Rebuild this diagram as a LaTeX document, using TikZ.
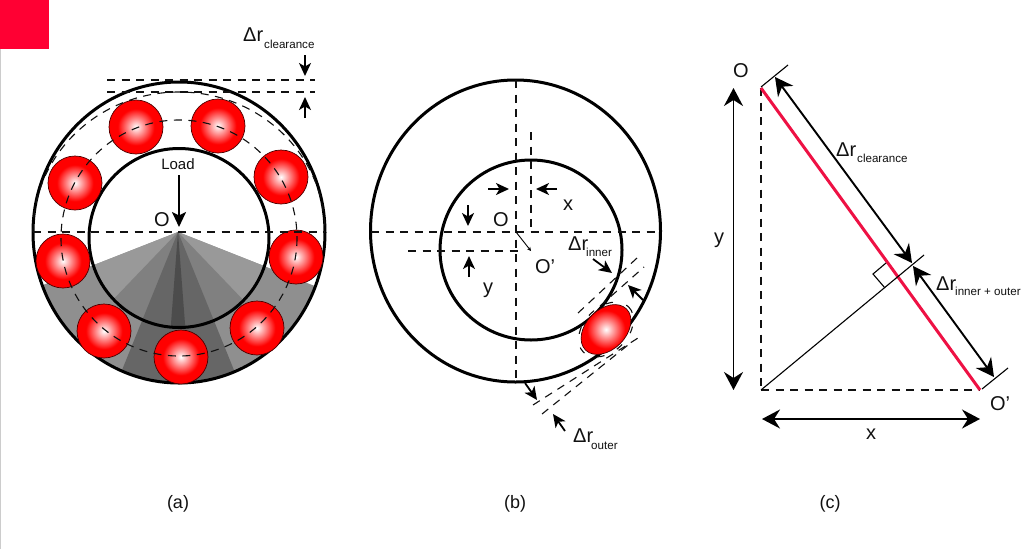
\documentclass[tikz,border=0pt]{standalone}
\usepackage{fontspec}
\setmainfont{Liberation Sans}
\usetikzlibrary{arrows.meta}
\definecolor{ballred}{HTML}{FF0000}
\definecolor{squarered}{HTML}{FF0033}
\definecolor{linered}{HTML}{EE1144}
\definecolor{inkc}{HTML}{111111}
\pgfdeclareradialshading{ballshade}{\pgfpoint{0bp}{0bp}}{color(0bp)=(white); color(17bp)=(ballred); color(50bp)=(ballred)}
\tikzset{
  ring/.style={draw=black,line width=3pt},
  dashln/.style={draw=inkc,line width=1.1pt,dash pattern=on 8pt off 6.5pt},
  dim/.style={draw=black,line width=1.8pt,-{Stealth[length=13pt,width=12pt,inset=3.5pt]}},
  bigdim/.style={draw=black,line width=1.9pt,{Stealth[length=18pt,width=19pt,inset=6pt]}-{Stealth[length=18pt,width=19pt,inset=6pt]}},
  thinln/.style={draw=black,line width=1.1pt},
  lab/.style={inner sep=0pt,text=inkc,font=\fontsize{20}{20}\selectfont},
  sublab/.style={inner sep=0pt,text=inkc,font=\fontsize{11.6}{12}\selectfont}
}
\begin{document}
\begin{tikzpicture}[x=1pt,y=-1pt]
\useasboundingbox (0,0) rectangle (1024,549);
\fill[white] (0,0) rectangle (1024,549);
\fill[squarered] (0,0) rectangle (49,49);
\fill[black!20] (0,49) rectangle (1,549);
% --- (a) fan
\begin{scope}
\clip (179,232.5) ellipse[x radius=146,y radius=150.5];
\fill[black!44] (178,232) -- (20,294) -- (20,420) -- (340,420) -- (340,296) -- cycle;
\fill[black!60] (178,232) -- (103,417) -- (253,417) -- cycle;
\end{scope}
\begin{scope}
\clip (179,238) ellipse[x radius=90,y radius=89.5];
\fill[black!40] (178,232) -- (20,294) -- (20,420) -- (340,420) -- (340,296) -- cycle;
\fill[black!50] (178,232) -- (60,355) -- (296,355) -- cycle;
\fill[black!60] (178,232) -- (103,417) -- (253,417) -- cycle;
\fill[black!70] (178,232) -- (169,350) -- (187,350) -- cycle;
\end{scope}
\draw[ring] (179,232.5) ellipse[x radius=146,y radius=150.5];
\draw[ring] (179,238) ellipse[x radius=90,y radius=89.5];
\foreach \p in {(136,127),(218,126),(281,177),(75,183),(296,257),(63,261),(257,328),(104,331),(181,357)}{
  \shade[shading=ballshade] \p circle[radius=27];
  \draw[draw=black!70!red,line width=0.7pt] \p circle[radius=27];
}
\draw[dashln] (179,238) ellipse[x radius=118,y radius=118];
\draw[dashln] (33,232) arc[start angle=180,end angle=360,x radius=146,y radius=140];
\draw[dashln] (33,232) -- (325,232);
\draw[dashln] (107,80) -- (315,80);
\draw[dashln] (107,92) -- (315,92);
\coordinate (cla) at (305,55); \coordinate (clb) at (305,76);
\coordinate (clc) at (305,118); \coordinate (cld) at (305,97);
\draw[dim] (cla) -- (clb);
\draw[dim] (clc) -- (cld);
\node[lab,anchor=base west] (da) at (243,41) {Δr};
\node[sublab,anchor=base west] (db) at (264,48) {clearance};
\node[inner sep=0pt,text=inkc,font=\fontsize{15}{15}\selectfont] (load) at (178,164) {Load};
\coordinate (loadt) at (179,175); \coordinate (loadb) at (179,227);
\draw[black,line width=2.4pt,-{Stealth[length=15pt,width=14pt,inset=3.5pt]}] (loadt) -- (loadb);
\node[lab] (oa) at (162,220) {O};
\node[lab,font=\fontsize{18}{18}\selectfont] (capa) at (178,504) {(a)};
% --- (b)
\draw[ring] (515.5,231) ellipse[x radius=145,y radius=151];
\draw[ring] (531,250) ellipse[x radius=91,y radius=90];
\draw[dashln] (371,232) -- (660,232);
\draw[dashln] (516,80) -- (516,382);
\draw[dashln] (531,132) -- (531,232);
\draw[dashln] (408,251) -- (521,251);
\coordinate (obo) at (516,232); \coordinate (obp) at (531,251);
\draw[black,line width=0.9pt,-{Stealth[length=4pt,width=4pt]}] (obo) -- (obp);
\draw[dashln] (578,313) -- (637,258);
\draw[dashln] (600,306) -- (644,267);
\draw[dashln] (533,405) -- (638,338);
\draw[dashln] (542,414) -- (628,345);
\begin{scope}[rotate around={45:(606,329.5)}]
\draw[dashln,dash pattern=on 7pt off 14pt] (606,329.5) ellipse[x radius=32,y radius=22];
\shade[shading=ballshade] (606,329.5) ellipse[x radius=29,y radius=20];
\draw[draw=black!70!red,line width=0.7pt] (606,329.5) ellipse[x radius=29,y radius=20];
\end{scope}
\coordinate (xa) at (488,189); \coordinate (xb) at (509,189);
\coordinate (xc) at (557,189); \coordinate (xd) at (536,189);
\coordinate (ya) at (468,205); \coordinate (yb) at (468,226);
\coordinate (yc) at (469,277); \coordinate (yd) at (469,256);
\draw[dim] (xa) -- (xb); \draw[dim] (xc) -- (xd);
\draw[dim] (ya) -- (yb); \draw[dim] (yc) -- (yd);
\coordinate (ia) at (593,259); \coordinate (ib) at (612,273);
\coordinate (ic) at (643,300); \coordinate (id) at (628,285);
\coordinate (oua) at (525,383); \coordinate (oub) at (537,400);
\coordinate (ouc) at (565,431); \coordinate (oud) at (553,414);
\draw[dim] (ia) -- (ib); \draw[dim] (ic) -- (id);
\draw[dim] (oua) -- (oub); \draw[dim] (ouc) -- (oud);
\node[lab] (ob) at (501,220) {O};
\node[lab] (xl) at (568,205) {x};
\node[lab] (opb) at (545,267) {O’};
\node[lab] (yl) at (488,290) {y};
\node[lab,anchor=base west] (dib) at (568,250) {Δr};
\node[sublab,anchor=base west] (dis) at (586,256) {inner};
\node[lab,anchor=base west] (dob) at (573,442) {Δr};
\node[sublab,anchor=base west] (dos) at (591,449) {outer};
\node[lab,font=\fontsize{18}{18}\selectfont] (capb) at (515,504) {(b)};
% --- (c)
\coordinate (p) at (761,88); \coordinate (q) at (980,390); \coordinate (r) at (761,390);
\draw[dashln] (p) -- (r);
\draw[dashln] (r) -- (q);
\draw[linered,line width=3pt] (p) -- (q);
\coordinate (ta) at (761,87); \coordinate (tb) at (788,65);
\coordinate (tc) at (982,389); \coordinate (td) at (1008,368);
\coordinate (te) at (924,255);
\draw[thinln] (ta) -- (tb);
\draw[thinln] (tc) -- (td);
\draw[thinln] (r) -- (te);
\coordinate (ma) at (885,288); \coordinate (mb) at (873,274); \coordinate (mc) at (886,263);
\draw[thinln] (ma) -- (mb) -- (mc);
\coordinate (ca) at (775,77); \coordinate (cb) at (912,263);
\coordinate (cc) at (913,266); \coordinate (cd) at (994,377);
\draw[bigdim] (ca) -- (cb);
\draw[bigdim] (cc) -- (cd);
\coordinate (ya2) at (733.5,88); \coordinate (yb2) at (733.5,390);
\coordinate (xa2) at (762,419); \coordinate (xb2) at (980,419);
\draw[bigdim] (ya2) -- (yb2);
\draw[bigdim] (xa2) -- (xb2);
\node[lab] (oc) at (741,71) {O};
\node[lab] (opc) at (1000,404) {O’};
\node[lab] (yc2) at (719,240) {y};
\node[lab] (xc2) at (871,434) {x};
\node[lab,anchor=base west] (dc1) at (836,156) {Δr};
\node[sublab,anchor=base west] (dc2) at (857,162) {clearance};
\node[lab,anchor=base west] (dc3) at (936,290) {Δr};
\node[sublab,anchor=base west] (dc4) at (955,295) {inner + outer};
\node[lab,font=\fontsize{18}{18}\selectfont] (capc) at (830,504) {(c)};
\end{tikzpicture}
\end{document}
